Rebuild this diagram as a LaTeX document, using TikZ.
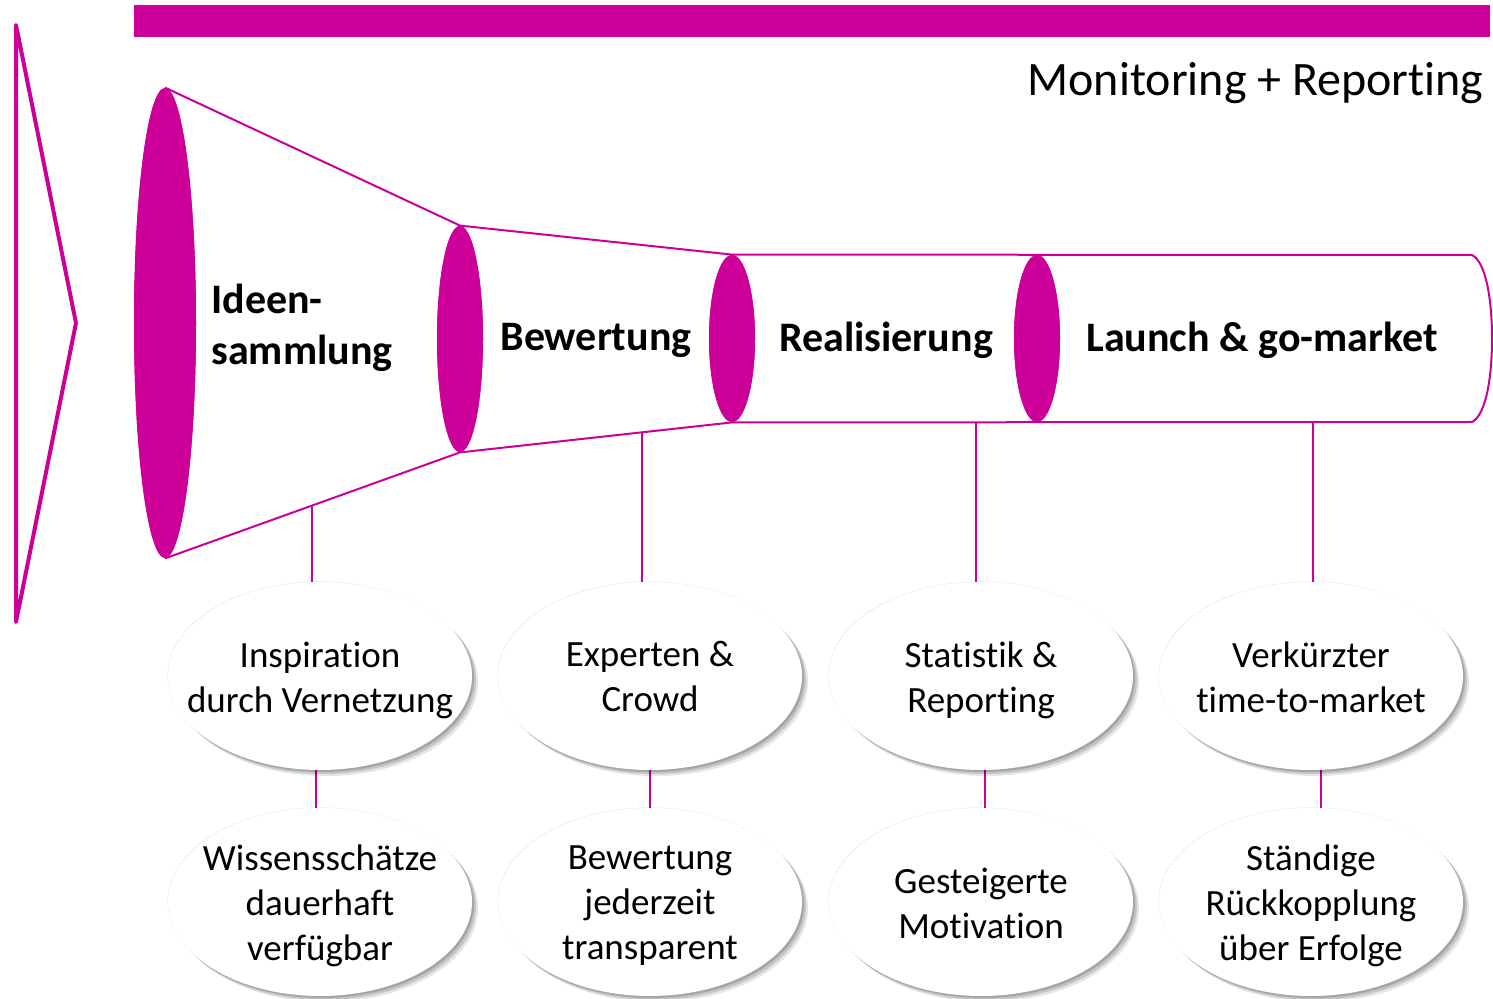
\documentclass[tikz,border=0pt]{standalone}
\usepackage{fontspec}
\setmainfont{Carlito}[Ligatures={NoCommon}]
\usetikzlibrary{shapes.geometric,shadows,calc}
\definecolor{mag}{HTML}{CC0099}
\begin{document}
\begin{tikzpicture}[x=0.5pt,y=-0.5pt,
  magline/.style={draw=mag, line width=1pt},
  disc/.style={ellipse, fill=mag, inner sep=0pt},
  bubbletext/.style={align=center, inner sep=0pt, yshift=-2pt, font=\fontsize{18.5}{22.5}\selectfont},
  bubble/.style={ellipse, fill=white, minimum width=152pt, minimum height=94pt, inner sep=0pt,
    drop shadow={opacity=0.10, shadow xshift=3pt, shadow yshift=-3pt, fill=black},
    drop shadow={opacity=0.14, shadow xshift=2pt, shadow yshift=-2pt, fill=black},
    drop shadow={opacity=0.16, shadow xshift=1pt, shadow yshift=-1pt, fill=black},
    drop shadow={opacity=0.08, shadow xshift=-0.3pt, shadow yshift=0.3pt, fill=black},
    label={[bubbletext]center:{#1\vphantom{g}}}},
  stage/.style={font=\fontsize{21}{25.6}\selectfont\bfseries, inner sep=0pt}]
\useasboundingbox (0,0) rectangle (1493,999);
% top bar and title
\fill[mag] (134,5) rectangle (1490,37);
\node[anchor=east, font=\fontsize{24}{29}\selectfont, inner sep=0pt] (title) at (1484,83) {Monitoring + Reporting};
% left triangle
\draw[mag, line width=2pt, line join=round, line cap=round] (16,25) -- (76,323) -- (16,622) -- cycle;
% discs (positions)
\path (165,323) node[disc, minimum width=31pt, minimum height=235pt] (d1) {}
      (460,339) node[disc, minimum width=23pt, minimum height=113pt] (d2) {}
      (732,338.5) node[disc, minimum width=23pt, minimum height=83.5pt] (d3) {}
      (1037,338.5) node[disc, minimum width=23pt, minimum height=83.5pt] (d4) {};
\coordinate (cr1) at (1472,255);
\coordinate (cr2) at (1472,422);
% funnel outline
\draw[magline] (d1.north) -- (d2.north) -- (d3.north) -- (cr1)
  .. controls (1486,262) and (1492,300) .. (1492,338.5)
  .. controls (1492,377) and (1486,415) .. (cr2) -- (d3.south) -- (d2.south) -- (d1.south);
% discs on top
\fill[mag] (d1.center) ellipse [x radius=15.5pt, y radius=117.5pt];
\fill[mag] (d2.center) ellipse [x radius=11.5pt, y radius=56.5pt];
\fill[mag] (d3.center) ellipse [x radius=11.5pt, y radius=41.75pt];
\fill[mag] (d4.center) ellipse [x radius=11.5pt, y radius=41.75pt];
% stage labels
\node[stage, anchor=west, align=left] (s1) at (211,328) {Ideen-\\sammlung};
\node[stage] (s2) at (596,340) {Bewertung};
\node[stage] (s3) at (886,340) {Realisierung};
\node[stage] (s4) at (1262,340) {Launch \& go-market};
% connector start points
\coordinate (p1) at ($(d1.south)!0.497!(d2.south)$);
\coordinate (p2) at ($(d2.south)!0.67!(d3.south)$);
\coordinate (p3) at (976,422);
\coordinate (p4) at (1313,422);
% connectors
\draw[magline] (p1) -- (p1 |- 0,590);
\draw[magline] (p2) -- (p2 |- 0,590);
\draw[magline] (p3) -- (p3 |- 0,590);
\draw[magline] (p4) -- (p4 |- 0,590);
\draw[magline] (316,760) -- (316,820);
\draw[magline] (649.5,760) -- (649.5,820);
\draw[magline] (984.5,760) -- (984.5,820);
\draw[magline] (1320.5,760) -- (1320.5,820);
% bubbles
\node[bubble={Inspiration\\durch Vernetzung}] (e1) at (320,676) {};
\node[bubble={Experten \&\\Crowd}] (e2) at (650,676) {};
\node[bubble={Statistik \&\\Reporting}] (e3) at (981,676) {};
\node[bubble={Verkürzter\\time-to-market}] (e4) at (1311,676) {};
\node[bubble={Wissensschätze\\dauerhaft\\verfügbar}] (g1) at (320,902) {};
\node[bubble={Bewertung\\jederzeit\\transparent}] (g2) at (650,902) {};
\node[bubble={Gesteigerte\\Motivation}] (g3) at (981,902) {};
\node[bubble={Ständige\\Rückkopplung\\über Erfolge}] (g4) at (1311,902) {};
\end{tikzpicture}
\end{document}
